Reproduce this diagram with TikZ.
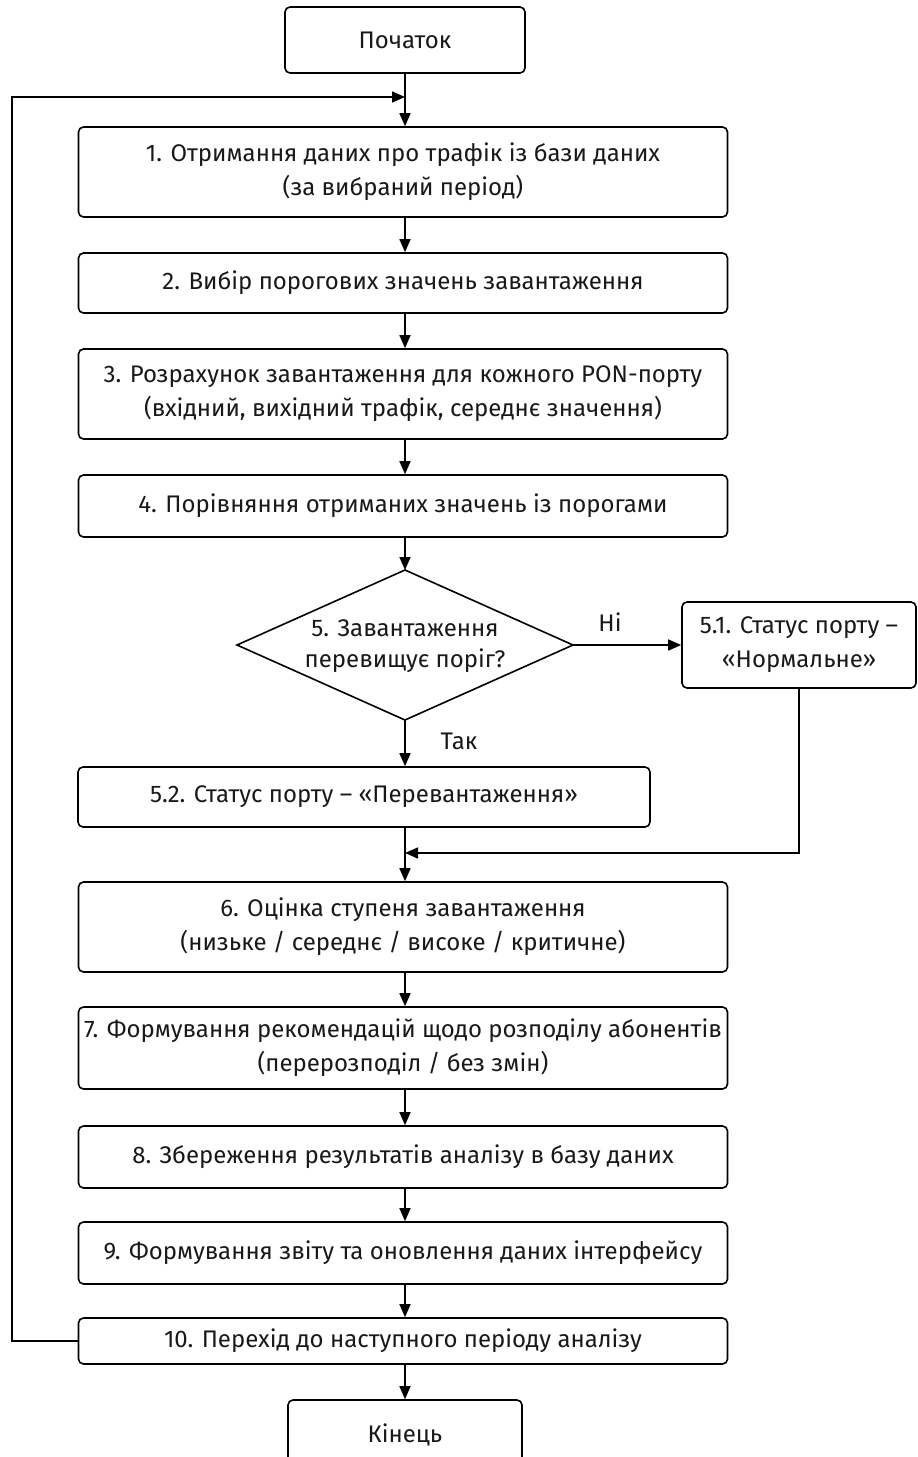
\documentclass[tikz,border=0pt]{standalone}
\usepackage{fontspec}
\setmainfont{Fira Sans}
\usetikzlibrary{arrows.meta}
\begin{document}
\begin{tikzpicture}[x=1pt,y=-1pt,
  box/.style={draw, line width=1.6pt, rounded corners=5pt, align=center, inner sep=0pt,
    font=\fontsize{24}{34}\selectfont, text=black!90},
  lbl/.style={font=\fontsize{24}{26}\selectfont, text=black!90},
  arr/.style={line width=1.6pt, -{Triangle[length=13pt,width=11pt]}},
  ln/.style={line width=1.6pt}]
\useasboundingbox (0,0) rectangle (918,1457);
\fill[white] (0,0) rectangle (918,1457);
\node[box, minimum width=240, minimum height=66] (st) at (405,40) {Початок};
\node[box, minimum width=649, minimum height=90] (b1) at (403,172) {1. Отримання даних про трафік із бази даних\\(за вибраний період)};
\node[box, minimum width=649, minimum height=60] (b2) at (403,283) {2. Вибір порогових значень завантаження};
\node[box, minimum width=649, minimum height=90] (b3) at (403,394) {3. Розрахунок завантаження для кожного PON-порту\\(вхідний, вихідний трафік, середнє значення)};
\node[box, minimum width=649, minimum height=62] (b4) at (403,506) {4. Порівняння отриманих значень із порогами};
\coordinate (dt) at (405,570);
\coordinate (db) at (405,720);
\coordinate (dl) at (237,645);
\coordinate (dr) at (573,645);
\draw[ln, line join=miter] (dt) -- (dr) -- (db) -- (dl) -- cycle;
\node[align=center, font=\fontsize{24}{31}\selectfont, text=black!90] (dtext) at (405,646) {5. Завантаження\\перевищує поріг?};
\node[box, minimum width=234, minimum height=86] (b51) at (799,645) {5.1. Статус порту –\\«Нормальне»};
\node[box, minimum width=572, minimum height=60] (b52) at (364,797) {5.2. Статус порту – «Перевантаження»};
\node[box, minimum width=649, minimum height=90] (b6) at (403,927) {6. Оцінка ступеня завантаження\\(низьке / середнє / високе / критичне)};
\node[box, minimum width=649, minimum height=82] (b7) at (403,1048) {7. Формування рекомендацій щодо розподілу абонентів\\(перерозподіл / без змін)};
\node[box, minimum width=649, minimum height=62] (b8) at (403,1157) {8. Збереження результатів аналізу в базу даних};
\node[box, minimum width=649, minimum height=62] (b9) at (403,1253) {9. Формування звіту та оновлення даних інтерфейсу};
\node[box, minimum width=649, minimum height=46] (b10) at (403,1341) {10. Перехід до наступного періоду аналізу};
\node[box, minimum width=234, minimum height=70] (en) at (405,1435) {Кінець};
\node[lbl] (ni) at (610,622) {Ні};
\node[lbl] (tak) at (459,741) {Так};
\coordinate (lp) at (405,97);
\coordinate (mg) at (405,853);
\coordinate (lc) at (12,97);
% main flow
\draw[arr] (st.south) -- (st.south |- b1.north);
\draw[arr] (b1.south -| st) -- (b2.north -| st);
\draw[arr] (b2.south -| st) -- (b3.north -| st);
\draw[arr] (b3.south -| st) -- (b4.north -| st);
\draw[arr] (b4.south -| st) -- (dt);
\draw[arr] (dr) -- (b51.west);
\draw[arr] (db) -- (db |- b52.north);
\draw[ln] (b52.south -| st) -- (mg);
\draw[arr] (mg) -- (b6.north -| st);
\draw[arr] (b51.south) |- (mg);
\draw[arr] (b6.south -| st) -- (b7.north -| st);
\draw[arr] (b7.south -| st) -- (b8.north -| st);
\draw[arr] (b8.south -| st) -- (b9.north -| st);
\draw[arr] (b9.south -| st) -- (b10.north -| st);
\draw[arr] (b10.south -| st) -- (en.north);
% loop back
\draw[arr] (b10.west) -| (lc) -- (lp);
\end{tikzpicture}
\end{document}
